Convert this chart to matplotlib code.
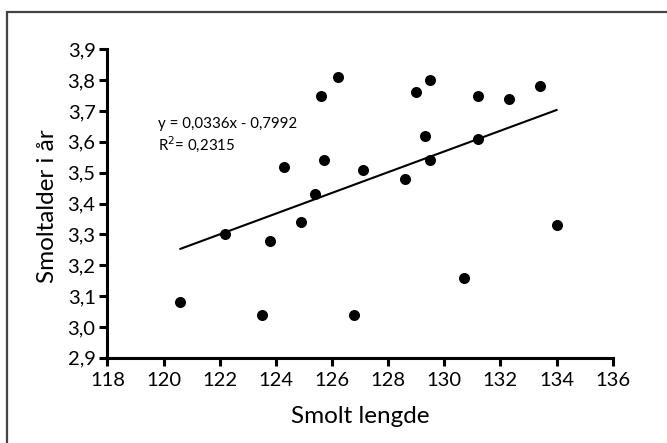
import numpy as np
import matplotlib.pyplot as plt
from matplotlib.patches import Rectangle

plt.rcParams['font.family'] = ['Lato', 'DejaVu Sans']

# smolt length vs smolt age
smolt_length = [120.6, 122.2, 123.8, 123.5, 124.9, 124.3, 125.4, 125.6, 125.7,
                126.2, 127.1, 128.6, 129.0, 129.5, 129.3, 129.5, 131.2, 131.2,
                132.3, 133.4, 134.0, 126.8, 130.7]
smolt_age = [3.08, 3.30, 3.28, 3.04, 3.34, 3.52, 3.43, 3.75, 3.54,
             3.81, 3.51, 3.48, 3.76, 3.80, 3.62, 3.54, 3.75, 3.61,
             3.74, 3.78, 3.33, 3.04, 3.16]

slope, intercept = 0.0336, -0.7992
r2 = 0.2315

x_ticks = [118, 120, 122, 124, 126, 128, 130, 132, 134, 136]
y_ticks = [2.9, 3.0, 3.1, 3.2, 3.3, 3.4, 3.5, 3.6, 3.7, 3.8, 3.9]
y_tick_labels = ["2,9", "3,0", "3,1", "3,2", "3,3", "3,4", "3,5", "3,6", "3,7", "3,8", "3,9"]


def comma(v, nd):
    return f"{v:.{nd}f}".replace(".", ",")


fig = plt.figure(figsize=(6.67, 4.43), dpi=100)
fig.patches.append(Rectangle((0.0105, -0.05), 1.1, 1.023, transform=fig.transFigure,
                             fill=False, edgecolor="#444444", linewidth=1.6))

ax = fig.add_axes([0.161, 0.1925, 0.7576, 0.6962])
ax.scatter(smolt_length, smolt_age, s=48, color="black", zorder=3)

xs = np.array([min(smolt_length), max(smolt_length)])
ax.plot(xs, slope * xs + intercept, color="black", linewidth=1.5)

ax.set_xlim(118, 136)
ax.set_ylim(2.9, 3.9)
ax.set_xticks(x_ticks)
ax.set_xticklabels([str(t) for t in x_ticks])
ax.set_yticks(y_ticks)
ax.set_yticklabels(y_tick_labels)

for side in ("top", "right"):
    ax.spines[side].set_visible(False)
for side in ("left", "bottom"):
    ax.spines[side].set_linewidth(2.2)
ax.tick_params(width=2.2, length=5.5, labelsize=14.5, pad=3)
ax.tick_params(axis="x", pad=5)

ax.set_xlabel("Smolt lengde", fontsize=17.5, labelpad=12)
ax.set_ylabel("Smoltalder i år", fontsize=17.5)
ax.yaxis.set_label_coords(-0.098, 0.49)

ax.text(119.8, 3.62,
        f"y = {comma(slope, 4)}x - {comma(-intercept, 4)}\nR$^2$= {comma(r2, 4)}",
        fontsize=10.8, va="center", ha="left", linespacing=1.2)

fig.savefig("out.png", dpi=100)
